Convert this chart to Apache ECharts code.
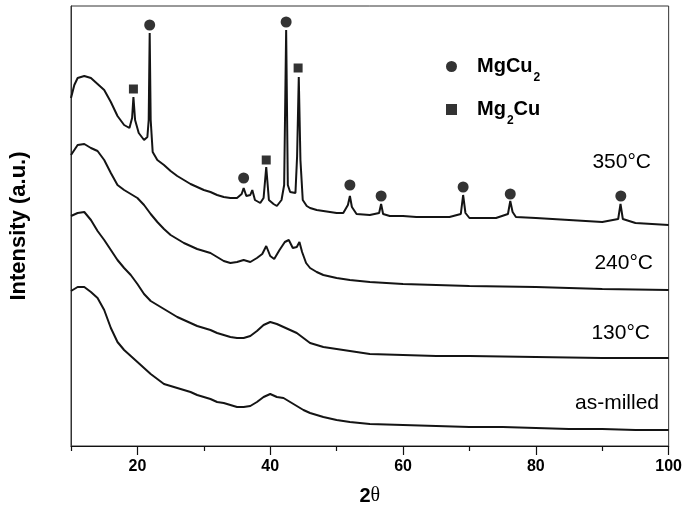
<!DOCTYPE html>
<html>
<head>
<meta charset="utf-8">
<script src="https://cdn.jsdelivr.net/npm/echarts@6/dist/echarts.min.js"></script>
<style>html,body{margin:0;padding:0;background:#fff}#c{width:685px;height:518px}</style>
</head>
<body>
<div id="c"></div>
<script>
const FONT = '"Liberation Sans", Arial, sans-serif';

// as-milled
const asMilledX = [10,11,12,13,14,15,16,17,18,19,20,21,22,23,24,25,26,27,28,29,30,31,32,33,34,35,36,37,38,39,40,41,42,43,44,45,46,47,48,50,52,55,60,65,70,75,80,85,90,95,100];
const asMilledY = [155,159,159,154,148,136,118,104,96,90,84,78,72,67,62,60,58,56,54,51,49,47,44,43,41,39,39,40,44,49,52,49,48,44,40,36,33,31,29,26,24,22,21,20,19,19,18,17,17,16,16];

// 130 °C
const t130X = [10,11,12,13,14,15,16,17,18,19,20,21,22,23,24,25,26,27,28,29,30,31,32,33,34,35,36,37,38,39,40,41,42,43,44,45,46,47,48,50,52,55,60,65,70,80,90,100];
const t130Y = [230,233,234,226,215,206,196,186,178,171,162,152,145,141,137,133,129,126,123,120,118,116,113,111,109,108,108,110,115,121,124,122,119,116,113,108,103,101,99,97,95,92,91,90,90,89,88,88];

// 240 °C
const t240X = [10,11,12,13,14,15,16,17,18,19,20,21,22,23,24,25,26,27,28,29,30,31,32,33,34,35,36,37,38,38.8,39.4,40,40.6,41.4,42.2,42.8,43.4,44,44.4,44.8,45.4,46,47,48,50,52,55,60,65,70,80,90,100];
const t240Y = [291,301,302,298,295,286,273,261,256,252,248,241,232,224,217,211,207,203,200,197,195,193,189,185,183,184,186,184,188,192,200,190,187,196,204,206,198,199,204,194,183,178,174,171,168,166,164,162,161,160,159,157,156];

// 350 °C
const t350X = [10,10.5,11,12,13,14,15,16,17,18,18.8,19.2,19.4,19.65,20.2,21,21.5,21.7,21.85,22.0,22.3,23,24,25,26,27,28,29,30,31,32,33,34,35,35.7,36.0,36.4,37.0,37.3,37.7,38.5,39.0,39.4,39.8,40.5,41,41.7,42.1,42.4,42.65,43.0,43.8,44.05,44.3,44.55,44.9,45.5,46,47,48,49,50,51,51.7,52.0,52.3,53,55,56.4,56.7,57.0,58,60,62,65,67,68.7,69.05,69.4,70,72,74,75.8,76.15,76.5,77,80,85,90,92.4,92.75,93.1,95,100];
const t350Y = [348,361,368,370,368,362,356,344,330,321,318,328,349,326,313,306,309,326,413,326,294,286,281,275,270,266,262,259,256,254,251,249,248,248,252,258,250,251,256,246,243,248,279,246,242,240,246,261,416,261,254,253,290,369,286,246,240,238,236,235,234,233,233,241,250,239,232,231,233,242,232,230,230,229,229,229,232,251,233,228,228,228,232,245,234,229,228,226,224,227,242,227,223,221];

// phase markers
const mgcu2X = [21.85, 36.0, 42.4, 52.0, 56.7, 69.05, 76.15, 92.8];
const mgcu2Y = [421, 268, 424, 261, 250, 259, 252, 250];
const mg2cuX = [19.4, 39.4, 44.2];
const mg2cuY = [357, 286, 378];

const xTickLabels = [20, 40, 60, 80, 100];
const xMinorTicks = [10, 30, 50, 70, 90];
const sampleNames = ['as-milled', '130°C', '240°C', '350°C'];

const zip = (xs, ys) => xs.map((x, i) => [x, ys[i]]);
const lineData = [zip(asMilledX, asMilledY), zip(t130X, t130Y), zip(t240X, t240Y), zip(t350X, t350Y)];

const chart = echarts.init(document.getElementById('c'), null, {renderer: 'canvas'});

const lineSeries = lineData.map((d, i) => ({
  name: sampleNames[i], type: 'line', data: d, symbol: 'none', silent: true,
  lineStyle: {color: '#141414', width: 2}, z: 2
}));

const labelPos = [[659, 403], [650, 333], [653, 263], [651, 162]];

chart.setOption({
  animation: false,
  backgroundColor: '#fff',
  grid: {left: 68, right: 16, top: 6, bottom: 72, show: true, borderColor: '#333', borderWidth: 1},
  legend: {
    orient: 'vertical', left: 446, top: 49, padding: 0, itemGap: 8,
    itemWidth: 11, itemHeight: 11, selectedMode: false,
    data: [{name: 'MgCu2', icon: 'circle'}, {name: 'Mg2Cu', icon: 'rect'}],
    formatter: n => n === 'MgCu2' ? '{m|MgCu}{s|2}' : '{m|Mg}{s|2}{m|Cu}',
    textStyle: {
      color: '#000', padding: [0, 0, 0, 15],
      rich: {
        m: {fontFamily: FONT, fontSize: 20, fontWeight: 'bold', color: '#000', lineHeight: 24, padding: [3, 0, 3, 0]},
        s: {fontFamily: FONT, fontSize: 12, fontWeight: 'bold', color: '#000', lineHeight: 7, padding: [23, 0, 0, 1]}
      }
    }
  },
  xAxis: [{
    type: 'value', min: 10, max: 100, interval: 10,
    name: '{b|2}{t|θ}', nameLocation: 'middle', nameGap: 40,
    nameTextStyle: {rich: {
      b: {fontFamily: FONT, fontSize: 20, fontWeight: 'bold', color: '#000'},
      t: {fontFamily: '"Liberation Serif", serif', fontSize: 20, color: '#000'}
    }},
    axisLine: {show: true, lineStyle: {color: '#111', width: 1.2}},
    axisTick: {show: true, inside: false, length: 9, customValues: xTickLabels, lineStyle: {color: '#111', width: 1.2}},
    axisLabel: {show: true, customValues: xTickLabels, margin: 13, fontFamily: FONT, fontSize: 16, fontWeight: 'bold', color: '#000'},
    splitLine: {show: false}
  }, {
    type: 'value', min: 10, max: 100, interval: 10, position: 'bottom',
    axisLine: {show: false},
    axisTick: {show: true, inside: false, length: 5, customValues: xMinorTicks, lineStyle: {color: '#111', width: 1.2}},
    axisLabel: {show: false},
    splitLine: {show: false}
  }],
  yAxis: {
    type: 'value', min: 0, max: 440,
    name: 'Intensity (a.u.)', nameLocation: 'middle', nameGap: 41, nameRotate: 90,
    nameTextStyle: {fontFamily: FONT, fontSize: 22, fontWeight: 'bold', color: '#000'},
    axisLine: {show: true, lineStyle: {color: '#333', width: 1}},
    axisTick: {show: false}, axisLabel: {show: false}, splitLine: {show: false}
  },
  series: lineSeries.concat([
    {name: 'MgCu2', type: 'scatter', data: zip(mgcu2X, mgcu2Y), symbol: 'circle', symbolSize: 11,
     itemStyle: {color: '#000'}, z: 5, silent: true},
    {name: 'Mg2Cu', type: 'scatter', data: zip(mg2cuX, mg2cuY), symbol: 'rect', symbolSize: 9,
     itemStyle: {color: '#000'}, z: 5, silent: true}
  ]),
  graphic: sampleNames.map((n, i) => ({
    type: 'text', x: labelPos[i][0], y: labelPos[i][1], silent: true,
    style: {text: n, fill: '#000', font: '21px ' + FONT, textAlign: 'right', textVerticalAlign: 'middle'}
  }))
});
</script>
</body>
</html>
